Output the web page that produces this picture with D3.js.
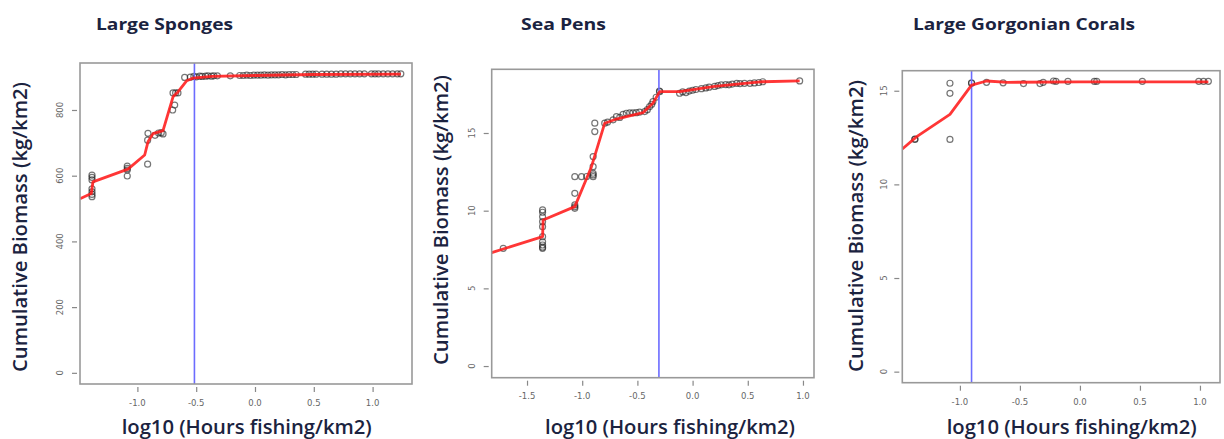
<!DOCTYPE html>
<html>
<head>
<meta charset="utf-8">
<script src="https://cdn.jsdelivr.net/npm/d3@7"></script>
<style>
  html, body { margin: 0; padding: 0; background: #fff; }
  svg { display: block; }
</style>
</head>
<body>
<svg id="chart" width="1224" height="439"></svg>
<script>
// ---------- DATA ----------
const panelTitles = ["Large Sponges", "Sea Pens", "Large Gorgonian Corals"];
const xAxisTitle = "log10 (Hours fishing/km2)";
const yAxisTitle = "Cumulative Biomass (kg/km2)";

// Large Sponges: observed points
const spongesPtX = [-1.386,-1.386,-1.386,-1.386,-1.386,-1.386,-1.386,
  -1.086,-1.086,-1.086,-1.086,
  -0.913,-0.91,-0.913,-0.85,-0.82,-0.797,-0.782,
  -0.70,-0.683,-0.697,-0.675,-0.655,-0.598,
  -0.55,-0.52,-0.50,-0.47,-0.45,-0.42,-0.40,-0.37,-0.35,-0.32,-0.21,
  -0.13,-0.10,-0.07,-0.04,-0.01,0.02,0.05,0.08,0.11,0.14,0.17,0.20,0.23,0.26,0.29,0.32,0.35,
  0.43,0.46,0.49,0.52,0.57,0.61,0.65,0.69,0.73,0.77,0.81,0.85,0.89,0.93,
  0.99,1.02,1.05,1.09,1.13,1.17,1.21,1.24];
const spongesPtY = [602,595,587,560,551,543,536,
  629,622,617,599,
  635,729,708,723,730,731,727,
  800,815,852,852,852,899,
  900,902,901,903,902,903,904,903,904,904,904,
  905,905,906,905,906,906,906,907,906,907,907,907,908,907,908,908,908,
  909,909,909,909,909,909,909,909,910,910,910,910,910,910,
  910,910,910,910,910,910,910,910];
// Large Sponges: fitted curve
const spongesFitX = [-1.488,-1.392,-1.378,-1.08,-0.938,-0.91,-0.867,-0.782,-0.697,-0.655,-0.58,-0.527,-0.37,0,0.5,1.24];
const spongesFitY = [530,546,581,620,663,703,728,737,840,855,889,897,902,905,908,909];
const spongesThreshold = -0.515;

// Sea Pens
const seaPensPtX = [-1.715,
  -1.359,-1.359,-1.359,-1.359,-1.359,-1.359,-1.359,-1.359,-1.359,-1.359,
  -1.067,-1.067,-1.067,-1.067,
  -1.067,-1.006,-0.96,
  -0.901,-0.901,-0.901,-0.901,-0.901,
  -0.886,-0.886,
  -0.796,-0.77,-0.72,-0.69,-0.66,-0.63,-0.60,-0.57,-0.54,-0.51,-0.48,-0.434,-0.41,-0.389,-0.37,-0.359,-0.33,-0.298,-0.30,
  -0.118,-0.09,-0.06,-0.03,0.0,0.03,0.08,0.12,0.15,0.20,0.23,0.26,0.30,0.33,0.36,0.40,0.43,0.47,0.52,0.56,0.60,0.636,0.97];
const seaPensPtY = [7.58,
  10.05,9.9,9.61,9.29,8.97,8.33,8.0,7.79,7.65,7.58,
  11.12,10.37,10.25,10.15,
  12.19,12.19,12.2,
  12.19,12.3,12.41,12.83,13.48,
  15.63,15.09,
  15.63,15.7,15.85,16.05,16.0,16.2,16.27,16.3,16.3,16.31,16.35,16.38,16.5,16.7,16.85,17.02,17.3,17.66,17.7,
  17.56,17.65,17.6,17.7,17.75,17.8,17.85,17.9,17.95,18.0,18.05,18.1,18.12,18.1,18.15,18.2,18.18,18.2,18.2,18.22,18.25,18.3,18.35];
const seaPensFitX = [-1.82,-1.359,-1.354,-1.067,-0.916,-0.796,-0.69,-0.45,-0.36,-0.298,-0.118,0.2,0.636,0.97];
const seaPensFitY = [7.3,8.33,9.4,10.26,12.83,15.63,15.9,16.31,16.92,17.66,17.66,18.0,18.3,18.35];
const seaPensThreshold = -0.305;

// Large Gorgonian Corals
const gorgPtX = [-1.375,-1.375,-1.083,-1.083,-1.083,-0.903,-0.903,-0.778,-0.64,-0.47,-0.333,-0.306,-0.22,-0.20,-0.10,0.12,0.14,0.52,0.99,1.03,1.07];
const gorgPtY = [12.4,12.42,12.4,14.86,15.4,15.4,15.42,15.45,15.42,15.38,15.38,15.45,15.52,15.5,15.5,15.5,15.5,15.5,15.5,15.5,15.5];
const gorgFitX = [-1.48,-1.36,-1.083,-0.903,-0.778,-0.6,0,1.07];
const gorgFitY = [11.89,12.55,13.74,15.3,15.52,15.45,15.47,15.47];
const gorgThreshold = -0.903;

// Axis domains (R-style 4% padding) and tick values
const spongesXDomain = [-1.488, 1.335], spongesYDomain = [-34, 943];
const seaPensXDomain = [-1.82, 1.10],  seaPensYDomain = [-0.75, 19.1];
const gorgXDomain = [-1.48, 1.167],    gorgYDomain = [-0.59, 16.07];
const spongesXTicks = [-1.0,-0.5,0.0,0.5,1.0], spongesYTicks = [0,200,400,600,800];
const seaPensXTicks = [-1.5,-1.0,-0.5,0.0,0.5,1.0], seaPensYTicks = [0,5,10,15];
const gorgXTicks = [-1.0,-0.5,0.0,0.5,1.0], gorgYTicks = [0,5,10,15];

// ---------- LAYOUT ----------
const panels = [
  { title: panelTitles[0], ptX: spongesPtX, ptY: spongesPtY, fitX: spongesFitX, fitY: spongesFitY, thr: spongesThreshold,
    xd: spongesXDomain, yd: spongesYDomain, xt: spongesXTicks, yt: spongesYTicks, yfmt: d3.format("d"),
    box: { l: 80, r: 412, t: 63, b: 384 },
    titleX: 96, titleW: 137, yTitle: { x: 27, cy: 227, w: 290 }, xTitle: { cx: 246.7, w: 250 },
    xLabY: 406, yLabX: 63 },
  { title: panelTitles[1], ptX: seaPensPtX, ptY: seaPensPtY, fitX: seaPensFitX, fitY: seaPensFitY, thr: seaPensThreshold,
    xd: seaPensXDomain, yd: seaPensYDomain, xt: seaPensXTicks, yt: seaPensYTicks, yfmt: d3.format("d"),
    box: { l: 491.7, r: 814, t: 69.3, b: 377.7 },
    titleX: 521, titleW: 85, yTitle: { x: 448, cy: 220, w: 290 }, xTitle: { cx: 670, w: 250 },
    xLabY: 398.5, yLabX: 475 },
  { title: panelTitles[2], ptX: gorgPtX, ptY: gorgPtY, fitX: gorgFitX, fitY: gorgFitY, thr: gorgThreshold,
    xd: gorgXDomain, yd: gorgYDomain, xt: gorgXTicks, yt: gorgYTicks, yfmt: d3.format("d"),
    box: { l: 902.3, r: 1220, t: 70.7, b: 382.7 },
    titleX: 913, titleW: 222, yTitle: { x: 863, cy: 226, w: 292 }, xTitle: { cx: 1071.7, w: 250 },
    xLabY: 405, yLabX: 886.5 }
];

const svg = d3.select("#chart");
const textColor = "#1b2340";
const xfmt = v => d3.format(".1f")(v).replace("\u2212", "-");

panels.forEach(p => {
  const g = svg.append("g");
  const x = d3.scaleLinear().domain(p.xd).range([p.box.l, p.box.r]);
  const y = d3.scaleLinear().domain(p.yd).range([p.box.b, p.box.t]);

  // Panel title
  g.append("text")
    .attr("x", p.titleX).attr("y", 30)
    .attr("font-family", "'Open Sans', sans-serif")
    .attr("font-weight", "bold").attr("font-size", 16.5)
    .attr("fill", textColor)
    .attr("textLength", p.titleW).attr("lengthAdjust", "spacingAndGlyphs")
    .text(p.title);

  // Axes (R style: ticks set a little away from the box)
  const xAxis = d3.axisBottom(x).tickValues(p.xt).tickFormat(xfmt).tickSize(5).tickPadding(6);
  const xa = g.append("g").attr("transform", `translate(0,${p.box.b + 3})`).call(xAxis);
  xa.select(".domain").remove();
  xa.selectAll(".tick line").attr("stroke", "#888").attr("stroke-width", 1.2);
  xa.selectAll(".tick text").remove();
  g.selectAll(null).data(p.xt).enter().append("text")
    .attr("x", d => x(d)).attr("y", p.xLabY)
    .attr("text-anchor", "middle")
    .attr("font-family", "'DejaVu Sans', sans-serif").attr("font-size", 8.5)
    .attr("fill", "#666")
    .text(d => xfmt(d));

  const yAxis = d3.axisLeft(y).tickValues(p.yt).tickSize(5);
  const ya = g.append("g").attr("transform", `translate(${p.box.l - 3},0)`).call(yAxis);
  ya.select(".domain").remove();
  ya.selectAll(".tick line").attr("stroke", "#888").attr("stroke-width", 1.2);
  ya.selectAll(".tick text").remove();
  g.selectAll(null).data(p.yt).enter().append("text")
    .attr("transform", d => `translate(${p.yLabX},${y(d)}) rotate(-90)`)
    .attr("text-anchor", "middle")
    .attr("font-family", "'DejaVu Sans', sans-serif").attr("font-size", 8.5)
    .attr("fill", "#666")
    .text(d => p.yfmt(d));

  // Clip region
  const clipId = "clip" + p.titleX;
  svg.append("clipPath").attr("id", clipId).append("rect")
    .attr("x", p.box.l).attr("y", p.box.t)
    .attr("width", p.box.r - p.box.l).attr("height", p.box.b - p.box.t);
  const plot = g.append("g").attr("clip-path", `url(#${clipId})`);

  // Points
  const pts = d3.zip(p.ptX, p.ptY);
  plot.selectAll("circle").data(pts).enter().append("circle")
    .attr("cx", d => x(d[0])).attr("cy", d => y(d[1]))
    .attr("r", 3)
    .attr("fill", "none")
    .attr("stroke", "#222").attr("stroke-opacity", 0.62).attr("stroke-width", 1.2);

  // Threshold line
  plot.append("line")
    .attr("x1", x(p.thr)).attr("x2", x(p.thr))
    .attr("y1", p.box.t).attr("y2", p.box.b)
    .attr("stroke", "#6c6cff").attr("stroke-width", 1.6);

  // Fitted curve
  const fit = d3.zip(p.fitX, p.fitY);
  plot.append("path").datum(fit)
    .attr("d", d3.line().x(d => x(d[0])).y(d => y(d[1])))
    .attr("fill", "none")
    .attr("stroke", "#ff1a1a").attr("stroke-opacity", 0.88)
    .attr("stroke-width", 2.8).attr("stroke-linejoin", "round");

  // Box
  g.append("rect")
    .attr("x", p.box.l).attr("y", p.box.t)
    .attr("width", p.box.r - p.box.l).attr("height", p.box.b - p.box.t)
    .attr("fill", "none").attr("stroke", "#999").attr("stroke-width", 1.6);

  // Y axis title
  g.append("text")
    .attr("transform", `translate(${p.yTitle.x},${p.yTitle.cy}) rotate(-90)`)
    .attr("text-anchor", "middle")
    .attr("font-family", "'Open Sans', sans-serif").attr("font-size", 19)
    .attr("font-weight", 600)
    .attr("fill", textColor)
    .attr("textLength", p.yTitle.w).attr("lengthAdjust", "spacingAndGlyphs")
    .text(yAxisTitle);

  // X axis title
  g.append("text")
    .attr("x", p.xTitle.cx - p.xTitle.w / 2).attr("y", 434)
    .attr("font-family", "'Open Sans', sans-serif").attr("font-size", 19)
    .attr("font-weight", 600)
    .attr("fill", textColor)
    .attr("textLength", p.xTitle.w).attr("lengthAdjust", "spacingAndGlyphs")
    .text(xAxisTitle);
});
</script>
</body>
</html>
